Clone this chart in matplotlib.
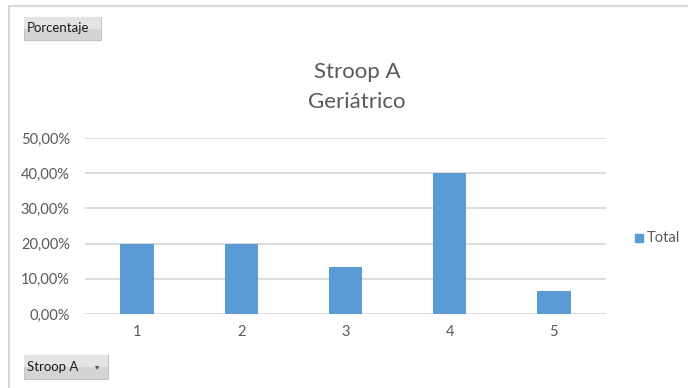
import matplotlib
matplotlib.use("Agg")
import matplotlib.pyplot as plt
from matplotlib.patches import FancyBboxPatch, Rectangle
from matplotlib.lines import Line2D
from matplotlib.ticker import FuncFormatter

# Pivot data: share of subjects per Stroop A score
categories = ["1", "2", "3", "4", "5"]
total = [0.20, 0.20, 0.1333, 0.40, 0.0667]
y_ticks = [0.0, 0.1, 0.2, 0.3, 0.4, 0.5]

BAR = "#5b9bd5"
GRID = "#d9d9d9"
TEXT = "#595959"
TITLE = "#595959"
FONT = "Lato"

W, H = 688, 388
fig = plt.figure(figsize=(W / 100, H / 100), dpi=100, facecolor="white")


def px(x, y):
    """pixel (from top-left) -> figure fraction"""
    return x / W, 1 - y / H


# chart frame
fig.add_artist(Line2D([9 / W, 1], [1 - 5.5 / H] * 2, color="#d9d9d9", lw=1.5))
fig.add_artist(Line2D([9 / W, 9 / W], [0, 1 - 5.5 / H], color="#d9d9d9", lw=1.5))

# plot area
left, top = px(85, 138)
right, bottom = px(606, 314)
ax = fig.add_axes([left, bottom, right - left, top - bottom])
x = range(1, len(categories) + 1)
ax.bar(x, total, width=0.32, color=BAR, zorder=3)
ax.set_xlim(0.5, len(categories) + 0.5)
ax.set_ylim(0, 0.5)
ax.set_yticks(y_ticks)
ax.yaxis.set_major_formatter(
    FuncFormatter(lambda v, _: f"{v * 100:.2f}%".replace(".", ",")))
ax.set_xticks(list(x))
ax.set_xticklabels(categories)
ax.grid(axis="y", color=GRID, lw=1.3, zorder=0)
for s in ax.spines.values():
    s.set_visible(False)
ax.tick_params(length=0, colors=TEXT, labelsize=10.5)
ax.tick_params(axis="y", pad=11)
ax.tick_params(axis="x", pad=8)
for lab in ax.get_xticklabels() + ax.get_yticklabels():
    lab.set_fontfamily(FONT)

# title
fig.text(*px(357, 72), "Stroop A", ha="center", va="center",
         fontsize=16, color=TITLE, family=FONT)
fig.text(*px(357, 102), "Geriátrico", ha="center", va="center",
         fontsize=16, color=TITLE, family=FONT)

# legend
lx, ly = px(635, 242)
fig.add_artist(Rectangle((lx, ly), 8 / W, 8 / H, transform=fig.transFigure,
                         color=BAR))
fig.text(*px(647, 238), "Total", ha="left", va="center",
         fontsize=10.5, color=TEXT, family=FONT)


# pivot field buttons
def button(x0, y0, w, h, label, arrow=False):
    bx, by = px(x0, y0 + h)
    fig.add_artist(FancyBboxPatch((bx, by), w / W, h / H,
                                  boxstyle="square,pad=0",
                                  transform=fig.transFigure,
                                  facecolor="#d4d4d4", edgecolor="#c4c4c4",
                                  lw=0.8))
    fig.add_artist(Rectangle((bx, by + h / H * 0.5), w / W, h / H * 0.5,
                             transform=fig.transFigure,
                             facecolor="#e4e4e4", edgecolor="none"))
    fig.text(*px(x0 + 3, y0 + h / 2), label, ha="left", va="center",
             fontsize=9.5, color="#1a1a1a", family=FONT)
    if arrow:
        fig.text(*px(x0 + w - 11, y0 + h / 2), "\u25be", ha="center",
                 va="center", fontsize=6, color="#555555",
                 family="DejaVu Sans")


button(24, 17, 77, 23, "Porcentaje")
button(24, 355, 84, 24, "Stroop A", arrow=True)

fig.savefig("out.png", dpi=100, facecolor="white")
